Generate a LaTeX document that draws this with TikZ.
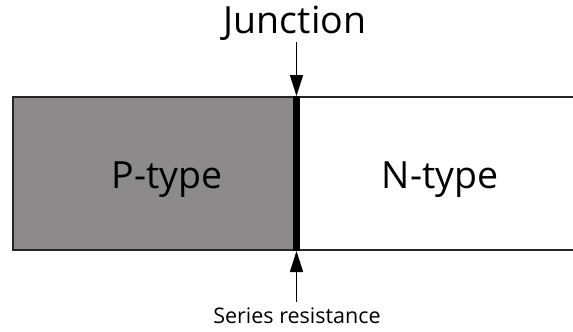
\documentclass[tikz,border=0pt]{standalone}
\usepackage{fontspec}
\setmainfont{Open Sans}
\usetikzlibrary{arrows.meta}
\definecolor{pfill}{HTML}{8C8A8A}
\tikzset{
  region/.style={draw=black!85, line width=1.6pt},
  bar/.style={fill=black, draw=none},
  pointer/.style={line width=1.6pt, -{Triangle[length=21pt, width=13pt]}},
  biglabel/.style={font=\fontsize{37.5}{42}\selectfont, inner sep=0pt},
  smalllabel/.style={font=\fontsize{21.5}{25}\selectfont, inner sep=0pt}
}
\begin{document}
\begin{tikzpicture}[x=1pt, y=-1pt]
\useasboundingbox (0,0) rectangle (573,332);
% P-type block
\fill[pfill] (13,97) rectangle (294,250);
\draw[region] (294,97) -- (13,97) -- (13,250) -- (294,250);
% N-type block, open on the right
\draw[region] (299,97) -- (573,97);
\draw[region] (299,250) -- (573,250);
% junction bar
\path[bar] (293,96) rectangle (300,251);
\coordinate (jtop) at (296.5,96);
\coordinate (jbot) at (296.5,251);
% labels
\node[biglabel] (p) at (167,180) {P-type};
\node[biglabel] (n) at (440,180) {N-type};
\node[biglabel, anchor=base] (junction) at (295,33) {Junction};
\node[smalllabel, anchor=base] (series) at (297,323) {Series resistance};
% pointers
\draw[pointer] (jtop |- 0,42) -- (jtop);
\draw[pointer] (jbot |- 0,302) -- (jbot);
\end{tikzpicture}
\end{document}
